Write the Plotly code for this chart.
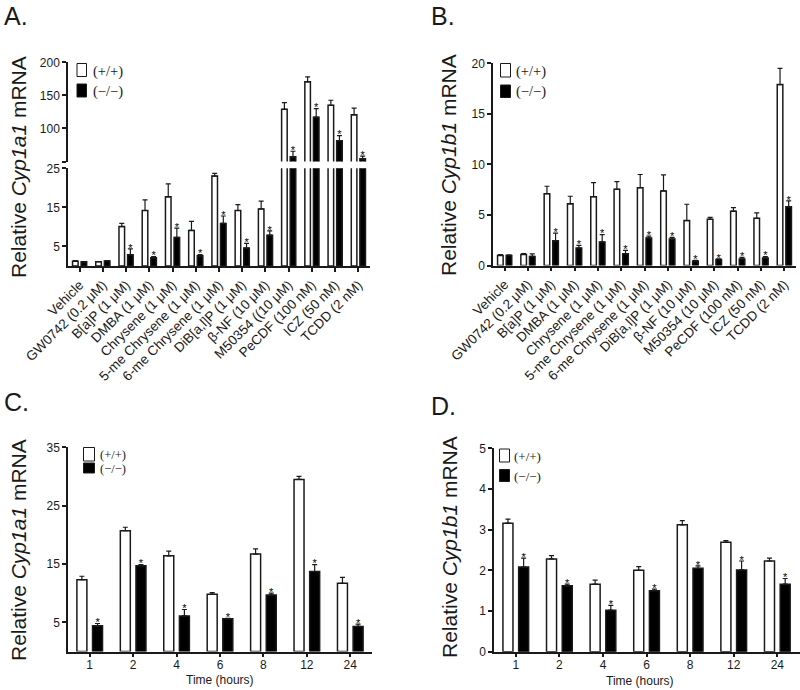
import plotly.graph_objects as go
import numpy as np

# ---------------- data ----------------
cats_A = ["Vehicle", "GW0742 (0.2 μM)", "B[a]P (1 μM)", "DMBA (1 μM)", "Chrysene (1 μM)",
          "5-me Chrysene (1 μM)", "6-me Chrysene (1 μM)", "DiB[a,l]P (1 μM)", "β-NF (10 μM)",
          "M50354 ((10 μM)", "PeCDF (100 nM)", "ICZ (50 nM)", "TCDD (2 nM)"]
a_wt = [1.2, 1.1, 10.1, 14.2, 17.7, 9.1, 23.0, 14.2, 14.6, 129, 170.5, 135, 120.6]
a_wt_err = [0.15, 0.05, 0.8, 2.7, 3.3, 2.3, 0.7, 1.5, 2.0, 10, 7.5, 7.6, 10]
a_ko = [1.1, 1.3, 2.9, 2.1, 7.3, 2.6, 10.9, 4.6, 7.9, 57, 117, 81.5, 54]
a_ko_err = [0.05, 0.05, 1.5, 0.3, 2.4, 0.3, 1.9, 1.2, 1.1, 8.5, 13, 7.5, 4]
a_sig = [False, False] + [True] * 11

cats_B = ["Vehicle", "GW0742 (0.2 μM)", "B[a]P (1 μM)", "DMBA (1 μM)", "Chrysene (1 μM)",
          "5-me Chrysene (1 μM)", "6-me Chrysene (1 μM)", "DiB[a,l]P (1 μM)", "β-NF (10 μM)",
          "M50354 (10 μM)", "PeCDF (100 nM)", "ICZ (50 nM)", "TCDD (2 nM)"]
b_wt = [1.0, 1.1, 7.1, 6.1, 6.8, 7.54, 7.7, 7.38, 4.44, 4.57, 5.37, 4.67, 17.9]
b_wt_err = [0.08, 0.08, 0.74, 0.75, 1.4, 0.76, 1.3, 1.58, 1.62, 0.2, 0.35, 0.53, 1.6]
b_ko = [1.0, 0.9, 2.46, 1.73, 2.33, 1.17, 2.72, 2.62, 0.45, 0.6, 0.64, 0.74, 5.8]
b_ko_err = [0.05, 0.24, 0.74, 0.27, 0.72, 0.33, 0.18, 0.17, 0.05, 0.05, 0.16, 0.13, 0.6]
b_sig = [False, False] + [True] * 11

cats_T = ["1", "2", "4", "6", "8", "12", "24"]
c_wt = [12.3, 20.7, 16.4, 9.8, 16.7, 29.5, 11.7]
c_wt_err = [0.6, 0.6, 0.8, 0.3, 0.9, 0.5, 1.0]
c_ko = [4.4, 14.7, 6.1, 5.6, 9.7, 13.7, 4.3]
c_ko_err = [0.4, 0.2, 1.1, 0.1, 0.3, 1.2, 0.4]
c_sig = [True] * 7

d_wt = [3.16, 2.28, 1.66, 2.0, 3.12, 2.69, 2.23]
d_wt_err = [0.1, 0.08, 0.1, 0.09, 0.1, 0.04, 0.07]
d_ko = [2.08, 1.62, 1.02, 1.5, 2.05, 2.01, 1.66]
d_ko_err = [0.22, 0.04, 0.12, 0.04, 0.06, 0.22, 0.14]
d_sig = [True] * 7

ticks_A_low = [5, 15, 25]
ticks_A_up = [50, 100, 150, 200]
ticks_A_up_text = ["", "100", "150", "200"]
ticks_B = [0, 5, 10, 15, 20]
ticks_C = [5, 15, 25, 35]
ticks_D = [0, 1, 2, 3, 4, 5]

# ---------------- helpers ----------------
W, H = 800, 690
def px(x): return x / W
def py(y): return 1 - y / H

FONT = "Liberation Sans, Arial, sans-serif"
SERIF = "Liberation Serif, Times New Roman, serif"
INK = "#1a1a1a"

fig = go.Figure()

def add_panel(xa, ya, cats, wt, wt_err, ko, ko_err, sig, width, c, yrange):
    pos = np.arange(len(cats))
    zeros = [0] * len(cats)
    fig.add_trace(go.Bar(x=pos, y=wt, width=width, offset=-c - width / 2,
                         marker=dict(color="white", line=dict(color=INK, width=1.5)),
                         error_y=dict(type="data", array=wt_err, arrayminus=zeros, symmetric=False,
                                      color=INK, thickness=1.2, width=2.5),
                         xaxis=xa, yaxis=ya, showlegend=False))
    fig.add_trace(go.Bar(x=pos, y=ko, width=width, offset=c - width / 2,
                         marker=dict(color="black", line=dict(color=INK, width=1.5)),
                         error_y=dict(type="data", array=ko_err, arrayminus=zeros, symmetric=False,
                                      color=INK, thickness=1.2, width=2.5),
                         xaxis=xa, yaxis=ya, showlegend=False))
    sx, sy = [], []
    for p, k, e, s in zip(pos, ko, ko_err, sig):
        if s and yrange[0] < k + e < yrange[1]:
            sx.append(p + c)
            sy.append(k + e)
    fig.add_trace(go.Scatter(x=sx, y=sy, mode="text", text=["*"] * len(sx),
                             textposition="middle center",
                             textfont=dict(family=FONT, size=11, color="black"),
                             xaxis=xa, yaxis=ya, showlegend=False, hoverinfo="skip"))

rA_low, rA_up, rB, rC, rD = [0, 25], [50, 200], [0, 20], [0, 35], [0, 5]

add_panel("x", "y", cats_A, a_wt, a_wt_err, a_ko, a_ko_err, a_sig, 0.24, 0.185, rA_low)
add_panel("x2", "y2", cats_A, a_wt, a_wt_err, a_ko, a_ko_err, a_sig, 0.24, 0.185, rA_up)
add_panel("x3", "y3", cats_B, b_wt, b_wt_err, b_ko, b_ko_err, b_sig, 0.24, 0.185, rB)
add_panel("x4", "y4", cats_T, c_wt, c_wt_err, c_ko, c_ko_err, c_sig, 0.23, 0.18, rC)
add_panel("x5", "y5", cats_T, d_wt, d_wt_err, d_ko, d_ko_err, d_sig, 0.23, 0.18, rD)

base = dict(showline=True, linecolor=INK, linewidth=1.5, ticks="outside", ticklen=4,
            tickwidth=1.5, tickcolor=INK, showgrid=False, zeroline=False,
            tickfont=dict(family=FONT, size=12, color=INK), automargin=False, fixedrange=True)

catfont = dict(family=FONT, size=13.5, color=INK)

fig.update_layout(
    width=W, height=H, margin=dict(l=0, r=0, t=0, b=0),
    template="none", paper_bgcolor="white", plot_bgcolor="rgba(0,0,0,0)",
    barmode="overlay",
    # Panel A lower
    xaxis=dict(base, domain=[px(68), px(370)], range=[-0.5, 12.5], anchor="y",
               tickmode="array", tickvals=list(range(len(cats_A))), ticktext=cats_A,
               tickangle=-45, tickfont=catfont),
    yaxis=dict(base, domain=[py(266), py(168.3)], range=rA_low, anchor="x",
               tickmode="array", tickvals=ticks_A_low),
    # Panel A upper
    xaxis2=dict(domain=[px(68), px(370)], range=[-0.5, 12.5], anchor="y2", visible=False),
    yaxis2=dict(base, domain=[py(161.5), py(62.3)], range=rA_up, anchor="x2",
                tickmode="array", tickvals=ticks_A_up, ticktext=ticks_A_up_text),
    # Panel B
    xaxis3=dict(base, domain=[px(493), px(796)], range=[-0.5, 12.5], anchor="y3",
                tickmode="array", tickvals=list(range(len(cats_B))), ticktext=cats_B,
                tickangle=-45, tickfont=catfont),
    yaxis3=dict(base, domain=[py(265.5), py(63.3)], range=rB, anchor="x3",
                tickmode="array", tickvals=ticks_B),
    # Panel C
    xaxis4=dict(base, domain=[px(68), px(372)], range=[-0.5, 6.5], anchor="y4",
                tickmode="array", tickvals=list(range(len(cats_T))), ticktext=cats_T,
                ticklabelstandoff=-3),
    yaxis4=dict(base, domain=[py(651.5), py(447.3)], range=rC, anchor="x4",
                tickmode="array", tickvals=ticks_C),
    # Panel D
    xaxis5=dict(base, domain=[px(494), 1.0], range=[-0.5, 6.52], anchor="y5",
                tickmode="array", tickvals=list(range(len(cats_T))), ticktext=cats_T,
                ticklabelstandoff=-3),
    yaxis5=dict(base, domain=[py(651.7), py(448.3)], range=rD, anchor="x5",
                tickmode="array", tickvals=ticks_D),
)

ann = []
def label(x, y, text, size, family=FONT, angle=0, xanchor="center", yanchor="middle"):
    ann.append(dict(x=px(x), y=py(y), xref="paper", yref="paper", text=text, showarrow=False,
                    font=dict(family=family, size=size, color=INK), textangle=angle,
                    xanchor=xanchor, yanchor=yanchor))

# panel letters
label(2, 16, "A.", 25, xanchor="left")
label(429, 15.5, "B.", 25, xanchor="left")
label(2, 402, "C.", 25, xanchor="left")
label(429, 405.5, "D.", 25, xanchor="left")

# y titles
label(18, 167, "Relative <i>Cyp1a1</i> mRNA", 21, angle=-90)
label(449, 165, "Relative <i>Cyp1b1</i> mRNA", 21, angle=-90)
label(18, 550, "Relative <i>Cyp1a1</i> mRNA", 21, angle=-90)
label(449, 547, "Relative <i>Cyp1b1</i> mRNA", 21, angle=-90)

# x titles
label(220, 680, "Time (hours)", 12)
label(640, 681, "Time (hours)", 12)

# legends
shapes = []
def legend(x0, yw, yk, tx, tyw, tyk, bw, bh_w, bh_k, size):
    shapes.append(dict(type="rect", xref="paper", yref="paper",
                       x0=px(x0), x1=px(x0 + bw), y0=py(yw), y1=py(yw + bh_w),
                       line=dict(color=INK, width=1), fillcolor="white"))
    shapes.append(dict(type="rect", xref="paper", yref="paper",
                       x0=px(x0), x1=px(x0 + bw), y0=py(yk), y1=py(yk + bh_k),
                       line=dict(color=INK, width=1), fillcolor="black"))
    label(tx, tyw, "(+/+)", size, family=SERIF, xanchor="left")
    label(tx, tyk, "(−/−)", size, family=SERIF, xanchor="left")

legend(77, 63.5, 84, 91, 71, 91, 9.5, 13, 13, 14.5)
legend(500.5, 63.5, 85, 514, 71, 91, 10, 13.5, 12.5, 14.5)
legend(83.5, 447.5, 463, 97.5, 455, 469, 11, 13.5, 10, 12.5)
legend(499.5, 449, 469.5, 512, 456, 476, 10, 13, 12, 13)

fig.update_layout(annotations=ann, shapes=shapes)
fig.write_html("out.html", config={"displayModeBar": False},
               post_script="document.body.style.margin='0';document.body.style.overflow='hidden';")
